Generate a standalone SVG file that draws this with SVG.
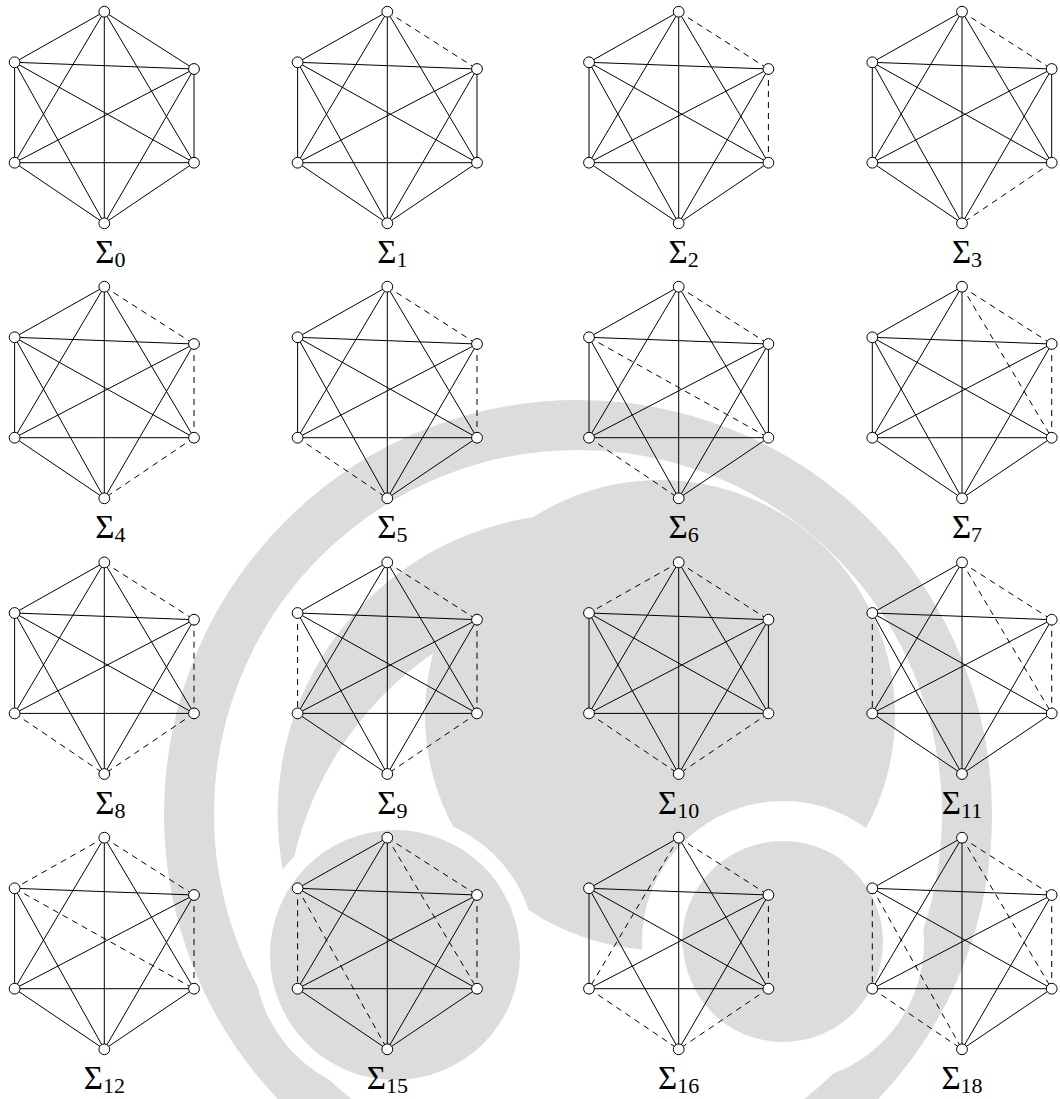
<svg xmlns="http://www.w3.org/2000/svg" width="1060" height="1099" viewBox="0 0 1060 1099">
<style>
.wm{fill:#dcdcdc}
.wmr{fill:none;stroke:#dcdcdc}
.e{stroke:#000;stroke-width:1;fill:none}
.n{stroke:#000;stroke-width:1;fill:none;stroke-dasharray:6 5}
.v{fill:#fff;stroke:#000;stroke-width:1}
.lbl{font-family:"Liberation Serif","DejaVu Serif",serif;font-size:33px;fill:#000;text-anchor:middle}
.sub{font-size:22px}
</style>
<defs>
<line id="TUL" x1="0" y1="11.7" x2="-89.7" y2="62.3"/>
<line id="TUR" x1="0" y1="11.7" x2="89.7" y2="69"/>
<line id="TLL" x1="0" y1="11.7" x2="-89.7" y2="162.7"/>
<line id="TLR" x1="0" y1="11.7" x2="89.7" y2="162.7"/>
<line id="TB" x1="0" y1="11.7" x2="0" y2="223.3"/>
<line id="ULUR" x1="-89.7" y1="62.3" x2="89.7" y2="69"/>
<line id="ULLL" x1="-89.7" y1="62.3" x2="-89.7" y2="162.7"/>
<line id="ULLR" x1="-89.7" y1="62.3" x2="89.7" y2="162.7"/>
<line id="ULB" x1="-89.7" y1="62.3" x2="0" y2="223.3"/>
<line id="URLL" x1="89.7" y1="69" x2="-89.7" y2="162.7"/>
<line id="URLR" x1="89.7" y1="69" x2="89.7" y2="162.7"/>
<line id="URB" x1="89.7" y1="69" x2="0" y2="223.3"/>
<line id="LLLR" x1="-89.7" y1="162.7" x2="89.7" y2="162.7"/>
<line id="LLB" x1="-89.7" y1="162.7" x2="0" y2="223.3"/>
<line id="LRB" x1="89.7" y1="162.7" x2="0" y2="223.3"/>
</defs>
<rect width="1060" height="1099" fill="#fff"/>
<g id="watermark">
<circle class="wmr" cx="578" cy="814" r="389" stroke-width="50"/>
<path class="wm" d="M552 515 A300 300 0 0 0 288 892 A340 340 0 0 1 560 600 Z"/>
<circle class="wm" cx="660" cy="715" r="235"/>
<circle cx="783" cy="942" r="121" fill="none" stroke="#fff" stroke-width="40"/>
<circle class="wm" cx="783" cy="942" r="100"/>
<circle cx="395" cy="955" r="133" fill="none" stroke="#fff" stroke-width="16"/>
<circle class="wm" cx="395" cy="955" r="125"/>
</g>

<!-- Sigma 0 -->
<g id="graph0" transform="translate(104.3,0)">
<g class="connectors">
<use href="#TUL" class="e"/><use href="#TUR" class="e"/><use href="#TLL" class="e"/><use href="#TLR" class="e"/><use href="#TB" class="e"/>
<use href="#ULUR" class="e"/><use href="#ULLL" class="e"/><use href="#ULLR" class="e"/><use href="#ULB" class="e"/>
<use href="#URLL" class="e"/><use href="#URLR" class="e"/><use href="#URB" class="e"/>
<use href="#LLLR" class="e"/><use href="#LLB" class="e"/><use href="#LRB" class="e"/>
</g>
<g id="g0-t"><circle class="v" cx="0" cy="11.7" r="5.4"/></g>
<g id="g0-ul"><circle class="v" cx="-89.7" cy="62.3" r="5.4"/></g>
<g id="g0-ur"><circle class="v" cx="89.7" cy="69" r="5.4"/></g>
<g id="g0-ll"><circle class="v" cx="-89.7" cy="162.7" r="5.4"/></g>
<g id="g0-lr"><circle class="v" cx="89.7" cy="162.7" r="5.4"/></g>
<g id="g0-b"><circle class="v" cx="0" cy="223.3" r="5.4"/></g>
<text class="lbl" x="6" y="263">Σ<tspan class="sub" dy="4">0</tspan></text>
</g>

<!-- Sigma 1 -->
<g id="graph1" transform="translate(387.3,0)">
<g class="connectors">
<use href="#TUL" class="e"/><use href="#TUR" class="n"/><use href="#TLL" class="e"/><use href="#TLR" class="e"/><use href="#TB" class="e"/>
<use href="#ULUR" class="e"/><use href="#ULLL" class="e"/><use href="#ULLR" class="e"/><use href="#ULB" class="e"/>
<use href="#URLL" class="e"/><use href="#URLR" class="e"/><use href="#URB" class="e"/>
<use href="#LLLR" class="e"/><use href="#LLB" class="e"/><use href="#LRB" class="e"/>
</g>
<g id="g1-t"><circle class="v" cx="0" cy="11.7" r="5.4"/></g>
<g id="g1-ul"><circle class="v" cx="-89.7" cy="62.3" r="5.4"/></g>
<g id="g1-ur"><circle class="v" cx="89.7" cy="69" r="5.4"/></g>
<g id="g1-ll"><circle class="v" cx="-89.7" cy="162.7" r="5.4"/></g>
<g id="g1-lr"><circle class="v" cx="89.7" cy="162.7" r="5.4"/></g>
<g id="g1-b"><circle class="v" cx="0" cy="223.3" r="5.4"/></g>
<text class="lbl" x="5" y="263">Σ<tspan class="sub" dy="4">1</tspan></text>
</g>

<!-- Sigma 2 -->
<g id="graph2" transform="translate(678.7,0)">
<g class="connectors">
<use href="#TUL" class="e"/><use href="#TUR" class="n"/><use href="#TLL" class="e"/><use href="#TLR" class="e"/><use href="#TB" class="e"/>
<use href="#ULUR" class="e"/><use href="#ULLL" class="e"/><use href="#ULLR" class="e"/><use href="#ULB" class="e"/>
<use href="#URLL" class="e"/><use href="#URLR" class="n"/><use href="#URB" class="e"/>
<use href="#LLLR" class="e"/><use href="#LLB" class="e"/><use href="#LRB" class="e"/>
</g>
<g id="g2-t"><circle class="v" cx="0" cy="11.7" r="5.4"/></g>
<g id="g2-ul"><circle class="v" cx="-89.7" cy="62.3" r="5.4"/></g>
<g id="g2-ur"><circle class="v" cx="89.7" cy="69" r="5.4"/></g>
<g id="g2-ll"><circle class="v" cx="-89.7" cy="162.7" r="5.4"/></g>
<g id="g2-lr"><circle class="v" cx="89.7" cy="162.7" r="5.4"/></g>
<g id="g2-b"><circle class="v" cx="0" cy="223.3" r="5.4"/></g>
<text class="lbl" x="5" y="263">Σ<tspan class="sub" dy="4">2</tspan></text>
</g>

<!-- Sigma 3 -->
<g id="graph3" transform="translate(962,0)">
<g class="connectors">
<use href="#TUL" class="e"/><use href="#TUR" class="n"/><use href="#TLL" class="e"/><use href="#TLR" class="e"/><use href="#TB" class="e"/>
<use href="#ULUR" class="e"/><use href="#ULLL" class="e"/><use href="#ULLR" class="e"/><use href="#ULB" class="e"/>
<use href="#URLL" class="e"/><use href="#URLR" class="e"/><use href="#URB" class="e"/>
<use href="#LLLR" class="e"/><use href="#LLB" class="e"/><use href="#LRB" class="n"/>
</g>
<g id="g3-t"><circle class="v" cx="0" cy="11.7" r="5.4"/></g>
<g id="g3-ul"><circle class="v" cx="-89.7" cy="62.3" r="5.4"/></g>
<g id="g3-ur"><circle class="v" cx="89.7" cy="69" r="5.4"/></g>
<g id="g3-ll"><circle class="v" cx="-89.7" cy="162.7" r="5.4"/></g>
<g id="g3-lr"><circle class="v" cx="89.7" cy="162.7" r="5.4"/></g>
<g id="g3-b"><circle class="v" cx="0" cy="223.3" r="5.4"/></g>
<text class="lbl" x="5" y="263">Σ<tspan class="sub" dy="4">3</tspan></text>
</g>

<!-- Sigma 4 -->
<g id="graph4" transform="translate(104.3,275)">
<g class="connectors">
<use href="#TUL" class="e"/><use href="#TUR" class="n"/><use href="#TLL" class="e"/><use href="#TLR" class="e"/><use href="#TB" class="e"/>
<use href="#ULUR" class="e"/><use href="#ULLL" class="e"/><use href="#ULLR" class="e"/><use href="#ULB" class="e"/>
<use href="#URLL" class="e"/><use href="#URLR" class="n"/><use href="#URB" class="e"/>
<use href="#LLLR" class="e"/><use href="#LLB" class="e"/><use href="#LRB" class="n"/>
</g>
<g id="g4-t"><circle class="v" cx="0" cy="11.7" r="5.4"/></g>
<g id="g4-ul"><circle class="v" cx="-89.7" cy="62.3" r="5.4"/></g>
<g id="g4-ur"><circle class="v" cx="89.7" cy="69" r="5.4"/></g>
<g id="g4-ll"><circle class="v" cx="-89.7" cy="162.7" r="5.4"/></g>
<g id="g4-lr"><circle class="v" cx="89.7" cy="162.7" r="5.4"/></g>
<g id="g4-b"><circle class="v" cx="0" cy="223.3" r="5.4"/></g>
<text class="lbl" x="6" y="263">Σ<tspan class="sub" dy="4">4</tspan></text>
</g>

<!-- Sigma 5 -->
<g id="graph5" transform="translate(387.3,275)">
<g class="connectors">
<use href="#TUL" class="e"/><use href="#TUR" class="n"/><use href="#TLL" class="e"/><use href="#TLR" class="e"/><use href="#TB" class="e"/>
<use href="#ULUR" class="e"/><use href="#ULLL" class="e"/><use href="#ULLR" class="e"/><use href="#ULB" class="e"/>
<use href="#URLL" class="e"/><use href="#URLR" class="n"/><use href="#URB" class="e"/>
<use href="#LLLR" class="e"/><use href="#LLB" class="n"/><use href="#LRB" class="e"/>
</g>
<g id="g5-t"><circle class="v" cx="0" cy="11.7" r="5.4"/></g>
<g id="g5-ul"><circle class="v" cx="-89.7" cy="62.3" r="5.4"/></g>
<g id="g5-ur"><circle class="v" cx="89.7" cy="69" r="5.4"/></g>
<g id="g5-ll"><circle class="v" cx="-89.7" cy="162.7" r="5.4"/></g>
<g id="g5-lr"><circle class="v" cx="89.7" cy="162.7" r="5.4"/></g>
<g id="g5-b"><circle class="v" cx="0" cy="223.3" r="5.4"/></g>
<text class="lbl" x="5" y="263">Σ<tspan class="sub" dy="4">5</tspan></text>
</g>

<!-- Sigma 6 -->
<g id="graph6" transform="translate(678.7,275)">
<g class="connectors">
<use href="#TUL" class="e"/><use href="#TUR" class="n"/><use href="#TLL" class="e"/><use href="#TLR" class="e"/><use href="#TB" class="e"/>
<use href="#ULUR" class="e"/><use href="#ULLL" class="e"/><use href="#ULLR" class="n"/><use href="#ULB" class="e"/>
<use href="#URLL" class="e"/><use href="#URLR" class="e"/><use href="#URB" class="e"/>
<use href="#LLLR" class="e"/><use href="#LLB" class="n"/><use href="#LRB" class="e"/>
</g>
<g id="g6-t"><circle class="v" cx="0" cy="11.7" r="5.4"/></g>
<g id="g6-ul"><circle class="v" cx="-89.7" cy="62.3" r="5.4"/></g>
<g id="g6-ur"><circle class="v" cx="89.7" cy="69" r="5.4"/></g>
<g id="g6-ll"><circle class="v" cx="-89.7" cy="162.7" r="5.4"/></g>
<g id="g6-lr"><circle class="v" cx="89.7" cy="162.7" r="5.4"/></g>
<g id="g6-b"><circle class="v" cx="0" cy="223.3" r="5.4"/></g>
<text class="lbl" x="5" y="263">Σ<tspan class="sub" dy="4">6</tspan></text>
</g>

<!-- Sigma 7 -->
<g id="graph7" transform="translate(962,275)">
<g class="connectors">
<use href="#TUL" class="e"/><use href="#TUR" class="n"/><use href="#TLL" class="e"/><use href="#TLR" class="n"/><use href="#TB" class="e"/>
<use href="#ULUR" class="e"/><use href="#ULLL" class="e"/><use href="#ULLR" class="e"/><use href="#ULB" class="e"/>
<use href="#URLL" class="e"/><use href="#URLR" class="n"/><use href="#URB" class="e"/>
<use href="#LLLR" class="e"/><use href="#LLB" class="e"/><use href="#LRB" class="e"/>
</g>
<g id="g7-t"><circle class="v" cx="0" cy="11.7" r="5.4"/></g>
<g id="g7-ul"><circle class="v" cx="-89.7" cy="62.3" r="5.4"/></g>
<g id="g7-ur"><circle class="v" cx="89.7" cy="69" r="5.4"/></g>
<g id="g7-ll"><circle class="v" cx="-89.7" cy="162.7" r="5.4"/></g>
<g id="g7-lr"><circle class="v" cx="89.7" cy="162.7" r="5.4"/></g>
<g id="g7-b"><circle class="v" cx="0" cy="223.3" r="5.4"/></g>
<text class="lbl" x="5" y="263">Σ<tspan class="sub" dy="4">7</tspan></text>
</g>

<!-- Sigma 8 -->
<g id="graph8" transform="translate(104.3,550.7)">
<g class="connectors">
<use href="#TUL" class="e"/><use href="#TUR" class="n"/><use href="#TLL" class="e"/><use href="#TLR" class="e"/><use href="#TB" class="e"/>
<use href="#ULUR" class="e"/><use href="#ULLL" class="e"/><use href="#ULLR" class="e"/><use href="#ULB" class="e"/>
<use href="#URLL" class="e"/><use href="#URLR" class="n"/><use href="#URB" class="e"/>
<use href="#LLLR" class="e"/><use href="#LLB" class="n"/><use href="#LRB" class="n"/>
</g>
<g id="g8-t"><circle class="v" cx="0" cy="11.7" r="5.4"/></g>
<g id="g8-ul"><circle class="v" cx="-89.7" cy="62.3" r="5.4"/></g>
<g id="g8-ur"><circle class="v" cx="89.7" cy="69" r="5.4"/></g>
<g id="g8-ll"><circle class="v" cx="-89.7" cy="162.7" r="5.4"/></g>
<g id="g8-lr"><circle class="v" cx="89.7" cy="162.7" r="5.4"/></g>
<g id="g8-b"><circle class="v" cx="0" cy="223.3" r="5.4"/></g>
<text class="lbl" x="6" y="263">Σ<tspan class="sub" dy="4">8</tspan></text>
</g>

<!-- Sigma 9 -->
<g id="graph9" transform="translate(387.3,550.7)">
<g class="connectors">
<use href="#TUL" class="e"/><use href="#TUR" class="n"/><use href="#TLL" class="e"/><use href="#TLR" class="e"/><use href="#TB" class="e"/>
<use href="#ULUR" class="e"/><use href="#ULLL" class="n"/><use href="#ULLR" class="e"/><use href="#ULB" class="e"/>
<use href="#URLL" class="e"/><use href="#URLR" class="n"/><use href="#URB" class="e"/>
<use href="#LLLR" class="e"/><use href="#LLB" class="e"/><use href="#LRB" class="n"/>
</g>
<g id="g9-t"><circle class="v" cx="0" cy="11.7" r="5.4"/></g>
<g id="g9-ul"><circle class="v" cx="-89.7" cy="62.3" r="5.4"/></g>
<g id="g9-ur"><circle class="v" cx="89.7" cy="69" r="5.4"/></g>
<g id="g9-ll"><circle class="v" cx="-89.7" cy="162.7" r="5.4"/></g>
<g id="g9-lr"><circle class="v" cx="89.7" cy="162.7" r="5.4"/></g>
<g id="g9-b"><circle class="v" cx="0" cy="223.3" r="5.4"/></g>
<text class="lbl" x="5" y="263">Σ<tspan class="sub" dy="4">9</tspan></text>
</g>

<!-- Sigma 10 -->
<g id="graph10" transform="translate(678.7,550.7)">
<g class="connectors">
<use href="#TUL" class="n"/><use href="#TUR" class="n"/><use href="#TLL" class="e"/><use href="#TLR" class="e"/><use href="#TB" class="e"/>
<use href="#ULUR" class="e"/><use href="#ULLL" class="e"/><use href="#ULLR" class="e"/><use href="#ULB" class="e"/>
<use href="#URLL" class="e"/><use href="#URLR" class="e"/><use href="#URB" class="e"/>
<use href="#LLLR" class="e"/><use href="#LLB" class="n"/><use href="#LRB" class="n"/>
</g>
<g id="g10-t"><circle class="v" cx="0" cy="11.7" r="5.4"/></g>
<g id="g10-ul"><circle class="v" cx="-89.7" cy="62.3" r="5.4"/></g>
<g id="g10-ur"><circle class="v" cx="89.7" cy="69" r="5.4"/></g>
<g id="g10-ll"><circle class="v" cx="-89.7" cy="162.7" r="5.4"/></g>
<g id="g10-lr"><circle class="v" cx="89.7" cy="162.7" r="5.4"/></g>
<g id="g10-b"><circle class="v" cx="0" cy="223.3" r="5.4"/></g>
<text class="lbl" x="0" y="263">Σ<tspan class="sub" dy="4">10</tspan></text>
</g>

<!-- Sigma 11 -->
<g id="graph11" transform="translate(962,550.7)">
<g class="connectors">
<use href="#TUL" class="e"/><use href="#TUR" class="n"/><use href="#TLL" class="e"/><use href="#TLR" class="n"/><use href="#TB" class="e"/>
<use href="#ULUR" class="e"/><use href="#ULLL" class="n"/><use href="#ULLR" class="e"/><use href="#ULB" class="e"/>
<use href="#URLL" class="e"/><use href="#URLR" class="n"/><use href="#URB" class="e"/>
<use href="#LLLR" class="e"/><use href="#LLB" class="e"/><use href="#LRB" class="e"/>
</g>
<g id="g11-t"><circle class="v" cx="0" cy="11.7" r="5.4"/></g>
<g id="g11-ul"><circle class="v" cx="-89.7" cy="62.3" r="5.4"/></g>
<g id="g11-ur"><circle class="v" cx="89.7" cy="69" r="5.4"/></g>
<g id="g11-ll"><circle class="v" cx="-89.7" cy="162.7" r="5.4"/></g>
<g id="g11-lr"><circle class="v" cx="89.7" cy="162.7" r="5.4"/></g>
<g id="g11-b"><circle class="v" cx="0" cy="223.3" r="5.4"/></g>
<text class="lbl" x="0" y="263">Σ<tspan class="sub" dy="4">11</tspan></text>
</g>

<!-- Sigma 12 -->
<g id="graph12" transform="translate(104.3,826)">
<g class="connectors">
<use href="#TUL" class="n"/><use href="#TUR" class="n"/><use href="#TLL" class="e"/><use href="#TLR" class="e"/><use href="#TB" class="e"/>
<use href="#ULUR" class="e"/><use href="#ULLL" class="e"/><use href="#ULLR" class="n"/><use href="#ULB" class="e"/>
<use href="#URLL" class="e"/><use href="#URLR" class="n"/><use href="#URB" class="e"/>
<use href="#LLLR" class="e"/><use href="#LLB" class="e"/><use href="#LRB" class="e"/>
</g>
<g id="g12-t"><circle class="v" cx="0" cy="11.7" r="5.4"/></g>
<g id="g12-ul"><circle class="v" cx="-89.7" cy="62.3" r="5.4"/></g>
<g id="g12-ur"><circle class="v" cx="89.7" cy="69" r="5.4"/></g>
<g id="g12-ll"><circle class="v" cx="-89.7" cy="162.7" r="5.4"/></g>
<g id="g12-lr"><circle class="v" cx="89.7" cy="162.7" r="5.4"/></g>
<g id="g12-b"><circle class="v" cx="0" cy="223.3" r="5.4"/></g>
<text class="lbl" x="0" y="263">Σ<tspan class="sub" dy="4">12</tspan></text>
</g>

<!-- Sigma 15 -->
<g id="graph15" transform="translate(387.3,826)">
<g class="connectors">
<use href="#TUL" class="e"/><use href="#TUR" class="n"/><use href="#TLL" class="e"/><use href="#TLR" class="n"/><use href="#TB" class="e"/>
<use href="#ULUR" class="e"/><use href="#ULLL" class="n"/><use href="#ULLR" class="e"/><use href="#ULB" class="n"/>
<use href="#URLL" class="e"/><use href="#URLR" class="n"/><use href="#URB" class="e"/>
<use href="#LLLR" class="e"/><use href="#LLB" class="e"/><use href="#LRB" class="e"/>
</g>
<g id="g15-t"><circle class="v" cx="0" cy="11.7" r="5.4"/></g>
<g id="g15-ul"><circle class="v" cx="-89.7" cy="62.3" r="5.4"/></g>
<g id="g15-ur"><circle class="v" cx="89.7" cy="69" r="5.4"/></g>
<g id="g15-ll"><circle class="v" cx="-89.7" cy="162.7" r="5.4"/></g>
<g id="g15-lr"><circle class="v" cx="89.7" cy="162.7" r="5.4"/></g>
<g id="g15-b"><circle class="v" cx="0" cy="223.3" r="5.4"/></g>
<text class="lbl" x="0" y="263">Σ<tspan class="sub" dy="4">15</tspan></text>
</g>

<!-- Sigma 16 -->
<g id="graph16" transform="translate(678.7,826)">
<g class="connectors">
<use href="#TUL" class="e"/><use href="#TUR" class="n"/><use href="#TLL" class="n"/><use href="#TLR" class="e"/><use href="#TB" class="e"/>
<use href="#ULUR" class="e"/><use href="#ULLL" class="e"/><use href="#ULLR" class="e"/><use href="#ULB" class="e"/>
<use href="#URLL" class="e"/><use href="#URLR" class="n"/><use href="#URB" class="e"/>
<use href="#LLLR" class="e"/><use href="#LLB" class="n"/><use href="#LRB" class="n"/>
</g>
<g id="g16-t"><circle class="v" cx="0" cy="11.7" r="5.4"/></g>
<g id="g16-ul"><circle class="v" cx="-89.7" cy="62.3" r="5.4"/></g>
<g id="g16-ur"><circle class="v" cx="89.7" cy="69" r="5.4"/></g>
<g id="g16-ll"><circle class="v" cx="-89.7" cy="162.7" r="5.4"/></g>
<g id="g16-lr"><circle class="v" cx="89.7" cy="162.7" r="5.4"/></g>
<g id="g16-b"><circle class="v" cx="0" cy="223.3" r="5.4"/></g>
<text class="lbl" x="0" y="263">Σ<tspan class="sub" dy="4">16</tspan></text>
</g>

<!-- Sigma 18 -->
<g id="graph18" transform="translate(962,826)">
<g class="connectors">
<use href="#TUL" class="e"/><use href="#TUR" class="n"/><use href="#TLL" class="e"/><use href="#TLR" class="n"/><use href="#TB" class="e"/>
<use href="#ULUR" class="e"/><use href="#ULLL" class="n"/><use href="#ULLR" class="e"/><use href="#ULB" class="n"/>
<use href="#URLL" class="e"/><use href="#URLR" class="n"/><use href="#URB" class="e"/>
<use href="#LLLR" class="e"/><use href="#LLB" class="n"/><use href="#LRB" class="e"/>
</g>
<g id="g18-t"><circle class="v" cx="0" cy="11.7" r="5.4"/></g>
<g id="g18-ul"><circle class="v" cx="-89.7" cy="62.3" r="5.4"/></g>
<g id="g18-ur"><circle class="v" cx="89.7" cy="69" r="5.4"/></g>
<g id="g18-ll"><circle class="v" cx="-89.7" cy="162.7" r="5.4"/></g>
<g id="g18-lr"><circle class="v" cx="89.7" cy="162.7" r="5.4"/></g>
<g id="g18-b"><circle class="v" cx="0" cy="223.3" r="5.4"/></g>
<text class="lbl" x="0" y="263">Σ<tspan class="sub" dy="4">18</tspan></text>
</g>
</svg>
